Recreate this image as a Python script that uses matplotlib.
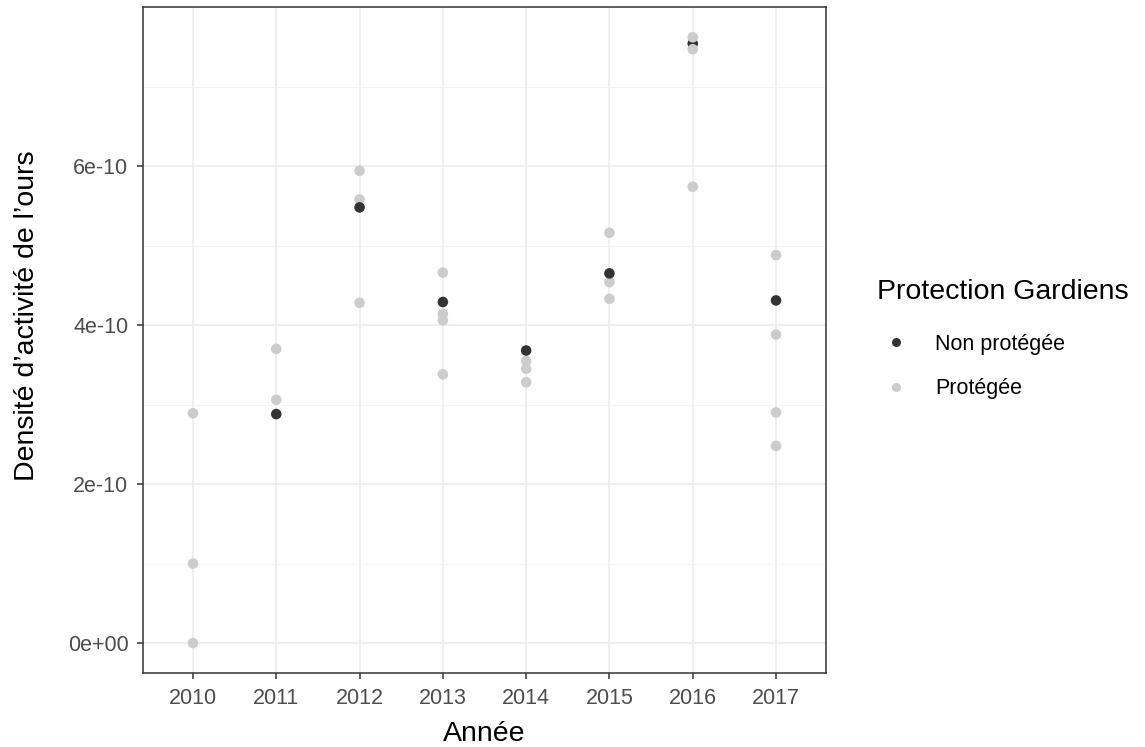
import matplotlib
matplotlib.use("Agg")
import matplotlib.pyplot as plt
from matplotlib.lines import Line2D
import numpy as np

plt.rcParams['font.family'] = ['Liberation Sans', 'DejaVu Sans']

# Data (in units of 1e-10), in drawing order
years = [2010, 2010, 2010,
         2011, 2011, 2011,
         2012, 2012, 2012, 2012,
         2013, 2013, 2013, 2013, 2013,
         2014, 2014, 2014, 2014,
         2015, 2015, 2015, 2015,
         2016, 2016, 2016, 2016,
         2017, 2017, 2017, 2017, 2017]
values_e10 = [2.89, 1.00, 0.00,
              3.06, 3.70, 2.88,
              5.94, 5.58, 4.28, 5.48,
              4.66, 4.14, 4.06, 3.38, 4.29,
              3.55, 3.45, 3.28, 3.68,
              5.16, 4.54, 4.33, 4.65,
              7.54, 7.62, 7.47, 5.74,
              4.88, 3.88, 2.90, 2.48, 4.31]
groups = ['P', 'P', 'P',
          'P', 'P', 'N',
          'P', 'P', 'P', 'N',
          'P', 'P', 'P', 'P', 'N',
          'P', 'P', 'P', 'N',
          'P', 'P', 'P', 'N',
          'N', 'P', 'P', 'P',
          'P', 'P', 'P', 'P', 'N']
year_labels = ['2010', '2011', '2012', '2013', '2014', '2015', '2016', '2017']
group_names = {'N': 'Non protégée', 'P': 'Protégée'}
group_colors = {'N': '#333333', 'P': '#CCCCCC'}

W, H = 1145, 747
fig = plt.figure(figsize=(W / 100, H / 100), dpi=100)
ax = fig.add_axes([143 / W, (747 - 673.3) / H, (826 - 143) / W, (673.3 - 7) / H])

xpos = {y: i for i, y in enumerate(int(l) for l in year_labels)}
for yr, v, g in zip(years, values_e10, groups):
    ax.scatter([xpos[yr]], [v * 1e-10], s=58, color=group_colors[g],
               edgecolors='none', zorder=3)

ax.set_xlim(-0.6, len(year_labels) - 1 + 0.6)
ymax = max(values_e10) * 1e-10
ax.set_ylim(-0.05 * ymax, 1.05 * ymax)
ax.set_xticks(range(len(year_labels)))
ax.set_xticklabels(year_labels)
yt = np.array([0, 2e-10, 4e-10, 6e-10])
ax.set_yticks(yt)
ax.set_yticklabels(['0e+00', '2e-10', '4e-10', '6e-10'])
ax.set_yticks([1e-10, 3e-10, 5e-10, 7e-10], minor=True)

ax.grid(True, which='major', color='#EBEBEB', linewidth=1.1, zorder=0)
ax.grid(True, which='minor', axis='y', color='#F2F2F2', linewidth=0.6, zorder=0)
ax.set_axisbelow(True)
ax.tick_params(axis='both', which='major', length=4.5, width=1.1, color='#333333',
               labelsize=15.5, labelcolor='#4D4D4D')
ax.tick_params(axis='x', which='major', pad=6)
ax.tick_params(axis='y', which='major', pad=6)
ax.tick_params(axis='y', which='minor', length=0)
for sp in ax.spines.values():
    sp.set_color('#333333')
    sp.set_linewidth(1.1)

ax.set_xlabel('Année', fontsize=20.5, color='black')
ax.xaxis.set_label_coords(0.5, -0.072)
ax.set_ylabel('Densité d’activité de l’ours', fontsize=20.5, color='black')
ax.yaxis.set_label_coords((40 - 143) / 683, (673.3 - 316) / 666.3)

handles = [Line2D([0], [0], marker='o', linestyle='none', markersize=6.5,
                  markerfacecolor=group_colors[g], markeredgecolor='none')
           for g in ['N', 'P']]
leg = fig.legend(handles, [group_names[g] for g in ['N', 'P']],
                 title='Protection Gardiens', loc='upper left',
                 bbox_to_anchor=(866 / W, 1 - 268 / H), frameon=False,
                 fontsize=15.5, title_fontsize=20.5, handletextpad=0.95,
                 labelspacing=1.09, handlelength=1.75, borderpad=0)
leg._legend_box.align = 'left'
leg._legend_box.sep = 21

fig.savefig('out.png', dpi=100)
